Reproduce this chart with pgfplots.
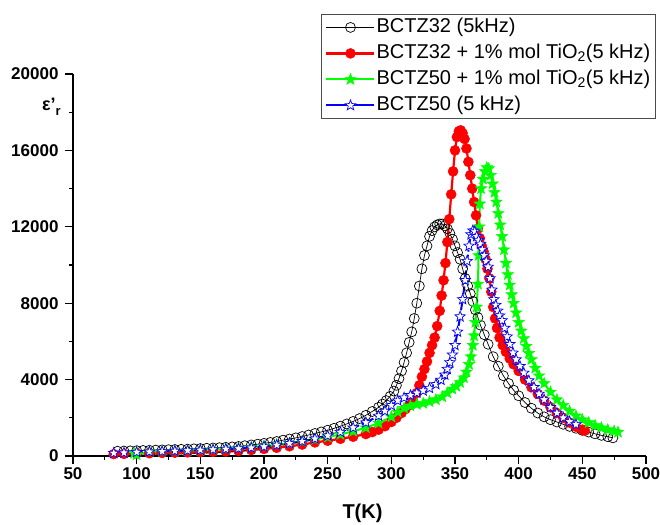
\documentclass[border=0pt]{standalone}
\usepackage{fontspec}
\setmainfont{Liberation Sans}
\usepackage{pgfplots}
\pgfplotsset{compat=1.18}
\usetikzlibrary{plotmarks}
\definecolor{pred}{RGB}{255,0,0}
\definecolor{pgreen}{RGB}{0,255,0}
\definecolor{pblue}{RGB}{0,0,255}
\pgfplotsset{solid legend/.style={legend image code/.code={\draw[mark repeat=2,mark phase=2,##1,solid] plot coordinates {(0pt,0pt) (24pt,0pt) (48pt,0pt)};}}}
% five-pointed star mark
\pgfdeclareplotmark{fstar}{%
  \pgfpathmoveto{\pgfpointpolar{90}{\pgfplotmarksize}}%
  \pgfpathlineto{\pgfpointpolar{126}{0.42\pgfplotmarksize}}%
  \pgfpathlineto{\pgfpointpolar{162}{\pgfplotmarksize}}%
  \pgfpathlineto{\pgfpointpolar{198}{0.42\pgfplotmarksize}}%
  \pgfpathlineto{\pgfpointpolar{234}{\pgfplotmarksize}}%
  \pgfpathlineto{\pgfpointpolar{270}{0.42\pgfplotmarksize}}%
  \pgfpathlineto{\pgfpointpolar{306}{\pgfplotmarksize}}%
  \pgfpathlineto{\pgfpointpolar{342}{0.42\pgfplotmarksize}}%
  \pgfpathlineto{\pgfpointpolar{18}{\pgfplotmarksize}}%
  \pgfpathlineto{\pgfpointpolar{54}{0.42\pgfplotmarksize}}%
  \pgfpathclose\pgfusepathqfillstroke}

\begin{document}
\begin{tikzpicture}
\useasboundingbox (0pt,0pt) rectangle (660pt,524pt);
\begin{axis}[
  at={(73pt,68pt)}, anchor=south west,
  scale only axis, width=573pt, height=382pt,
  xmin=50, xmax=500, ymin=0, ymax=20000,
  clip=false,
  axis x line*=bottom, axis y line*=left,
  axis line style={line width=1.3pt},
  xtick={50,100,...,500}, ytick={0,4000,...,20000},
  minor x tick num=1, minor y tick num=1,
  tick align=outside,
  major tick length=8pt, minor tick length=4pt,
  every tick/.style={black, line width=1.3pt},
  /pgf/number format/assume math mode=true,
  /pgf/number format/1000 sep={},
  scaled y ticks=false,
  ticklabel style={font=\fontsize{17}{19}\selectfont\bfseries},
  yticklabel style={xshift=-3pt},
  xlabel={T(K)},
  xlabel style={font=\fontsize{20}{23}\selectfont\bfseries, at={(axis description cs:0.5,0)}, anchor=center, yshift=-57pt, xshift=3pt},
  legend style={at={(axis description cs:0.4328,1.157)}, anchor=north west,
    draw=black!70, line width=0.8pt, inner xsep=4pt, inner ysep=2.5pt,
    font=\fontsize{20}{22}\selectfont, row sep=5pt,
    nodes={inner sep=1pt, text height=14.5pt, text depth=4.5pt}},
  legend cell align=left,
  solid legend,
]
\addplot[black, line width=0.7pt, mark=o, mark size=5pt, mark options={line width=0.7pt}] coordinates {
(85,250) (90,260) (95,270) (100,280) (105,290) (110,300) (115,310) (120,320) (125,330) (130,340)
(135,350) (140,360) (145,375) (150,390) (155,405) (160,420) (165,435) (170,455) (175,475) (180,500)
(185,540) (190,580) (195,620) (200,660) (205,710) (210,760) (215,830) (220,890) (225,950) (230,1020)
(235,1100) (240,1180) (245,1260) (250,1350) (255,1450) (260,1560) (265,1680) (270,1810) (275,1960) (280,2130)
(285,2330) (290,2550) (293,2720) (296,2900) (299,3120) (302,3400) (304,3700) (306,4050) (308,4450) (310,4900)
(312,5400) (314,5950) (316,6500) (318,7200) (320,8000) (322,8900) (324,9800) (326,10500) (328,11000) (330,11500)
(332,11800) (334,12000) (336,12100) (338,12150) (340,12150) (342,12050) (344,11900) (346,11650) (348,11350) (350,11000)
(352,10650) (354,10300) (356,9800) (358,9300) (360,8900) (362,8500) (364,8100) (366,7650) (368,7250) (370,6850)
(373,6350) (376,5850) (380,5200) (384,4700) (388,4200) (392,3800) (396,3450) (400,3150) (405,2800) (410,2500)
(415,2250) (420,2050) (425,1900) (430,1780) (435,1660) (440,1550) (445,1450) (450,1340) (455,1250) (460,1160)
(465,1080) (470,1010) (474,950)
};
\addlegendentry{BCTZ32 (5kHz)}
\addplot[pred, line width=2.2pt, mark=*, mark size=5pt, mark options={fill=pred, draw=pred, line width=0.5pt}] coordinates {
(82,100) (90,110) (100,130) (110,145) (120,160) (130,175) (140,190) (150,205) (160,220) (170,240)
(180,270) (190,315) (200,370) (210,430) (220,510) (230,600) (240,710) (250,800) (260,900) (270,1010)
(280,1150) (285,1250) (290,1380) (295,1560) (300,1780) (304,2000) (308,2250) (311,2450) (314,2650) (317,2900)
(320,3300) (322,3700) (324,4150) (326,4550) (328,4950) (330,5400) (332,5800) (334,6200) (336,6800) (338,7600)
(339.5,8400) (341,9200) (342.5,10100) (344,11200) (345.5,12400) (347,13700) (348.5,14900) (350,16000) (351.5,16700) (353,17000)
(354.5,17050) (356,16900) (357.5,16600) (359,16100) (360.5,15400) (362,14700) (363.5,14000) (365,13300) (366.5,12600) (368,11900)
(369.5,11400) (371,11000) (372.5,10700) (374,10300) (375.5,9800) (377,9300) (378.5,8600) (380,7800) (381.5,7200) (383,6700)
(385,6200) (387.5,5800) (390,5450) (393,5100) (396,4800) (400,4450) (405,4000) (410,3600) (415,3250) (420,2900)
(425,2550) (430,2250) (435,2000) (440,1750) (445,1530) (450,1380) (452,1330)
};
\addlegendentry{BCTZ32 + 1\% mol TiO\textsubscript{2}(5 kHz)}
\addplot[pgreen, line width=2pt, mark=fstar, mark size=6pt, mark options={fill=pgreen, draw=pgreen, line width=0.5pt}] coordinates {
(98,150) (100,60) (110,220) (120,240) (130,260) (140,280) (150,300) (160,330) (170,360) (180,400)
(190,450) (200,510) (210,580) (220,660) (230,760) (240,870) (250,990) (260,1130) (270,1290) (280,1480)
(290,1720) (300,2050) (305,2300) (310,2500) (315,2620) (320,2700) (325,2760) (330,2850) (335,2950) (340,3100)
(344,3300) (348,3500) (351,3650) (354,3850) (357,4100) (359,4400) (361,4800) (362.5,5200) (364,5800) (365,6300)
(366,7000) (367,7800) (368,9000) (368.5,10500) (369,12000) (369.5,13200) (370.5,14000) (372,14500) (373.5,14900) (375,15100)
(376.5,15050) (378,14700) (379.5,14250) (381,13800) (382.5,13300) (384,12700) (385.5,12100) (387,11500) (388.5,10800) (390,10100)
(391.5,9500) (393,8950) (394.5,8450) (396,8000) (398,7500) (400,7000) (402,6550) (404,6150) (406,5750) (408,5380)
(410,5050) (413,4600) (416,4200) (420,3800) (425,3350) (430,2950) (435,2650) (440,2350) (445,2100) (450,1900)
(455,1750) (460,1600) (465,1480) (470,1380) (475,1300) (478,1250)
};
\addlegendentry{BCTZ50 + 1\% mol TiO\textsubscript{2}(5 kHz)}
\addplot[pblue, line width=2pt, dash pattern=on 8pt off 3pt on 2pt off 3pt, mark=fstar, mark size=5.5pt,
  mark options={fill=white, draw=pblue, line width=0.7pt, solid}] coordinates {
(82,150) (90,170) (100,200) (110,220) (120,240) (130,260) (140,285) (150,310) (160,335) (170,360)
(180,390) (190,430) (200,490) (210,570) (220,660) (230,770) (240,900) (250,1060) (260,1250) (270,1480)
(280,1750) (290,2100) (295,2350) (300,2650) (305,2900) (310,3050) (315,3180) (320,3300) (325,3420) (330,3550)
(335,3750) (339,3980) (342,4250) (344,4550) (346,4900) (348,5300) (350,5800) (352,6500) (354,7300) (356,8200)
(358,9200) (359.5,10200) (361,11000) (362.5,11600) (364,11800) (365.5,11750) (367,11500) (368.5,11300) (370,11100) (371.5,10800)
(373,10500) (374.5,10200) (376,9900) (377.5,9300) (379,8700) (380.5,8200) (382,7900) (383.5,7600) (385,7350) (387,7100)
(389,6700) (391,6250) (393,5850) (395.5,5400) (398,5050) (401,4700) (404,4350) (408,3950) (412,3600) (416,3250)
(420,2950) (425,2550) (430,2250) (435,2000) (440,1800) (445,1650)
};
\addlegendentry{BCTZ50 (5 kHz)}
\node[anchor=east, inner sep=0pt, font=\fontsize{18}{20}\selectfont\bfseries] at (axis description cs:0,0.914) [xshift=-12pt] {ε'\raisebox{-5pt}{\fontsize{13}{14}\selectfont r}};
\end{axis}
\end{tikzpicture}
\end{document}
